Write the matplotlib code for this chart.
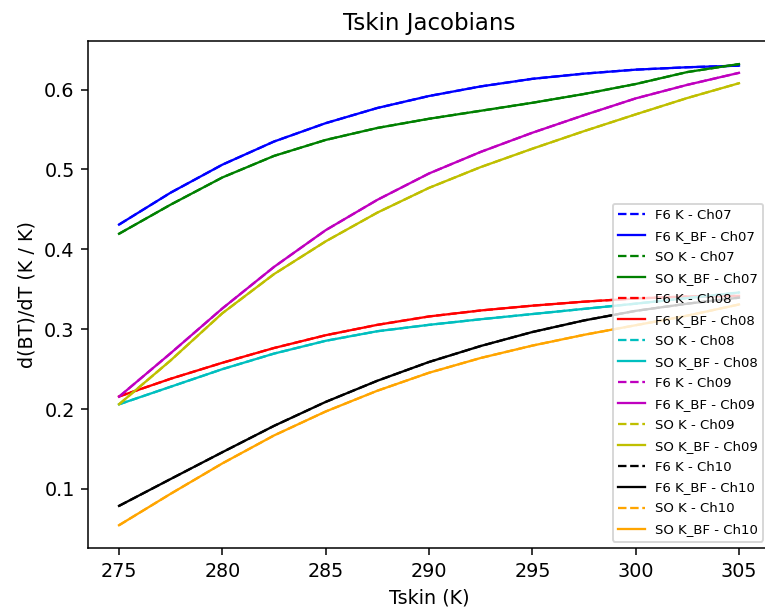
import numpy as np
import matplotlib
matplotlib.use("Agg")
import matplotlib.pyplot as plt

tskin = [275, 277.5, 280, 282.5, 285, 287.5, 290, 292.5, 295, 297.5, 300, 302.5, 305]

f6_ch07 = [0.431, 0.471, 0.506, 0.535, 0.558, 0.577, 0.592, 0.604, 0.6135, 0.620, 0.625, 0.628, 0.630]
so_ch07 = [0.4195, 0.456, 0.490, 0.517, 0.537, 0.552, 0.5635, 0.5735, 0.5835, 0.5945, 0.607, 0.622, 0.632]
f6_ch08 = [0.2158, 0.238, 0.258, 0.2765, 0.2925, 0.3055, 0.316, 0.3235, 0.3295, 0.3345, 0.3385, 0.341, 0.3418]
so_ch08 = [0.206, 0.228, 0.250, 0.2695, 0.2855, 0.2975, 0.3055, 0.3125, 0.319, 0.3255, 0.332, 0.339, 0.346]
f6_ch09 = [0.2155, 0.270, 0.326, 0.378, 0.424, 0.462, 0.495, 0.522, 0.546, 0.568, 0.589, 0.606, 0.621]
so_ch09 = [0.206, 0.261, 0.320, 0.369, 0.410, 0.446, 0.477, 0.503, 0.526, 0.548, 0.569, 0.5895, 0.608]
f6_ch10 = [0.0788, 0.1125, 0.146, 0.179, 0.209, 0.2355, 0.259, 0.279, 0.2965, 0.311, 0.323, 0.332, 0.3395]
so_ch10 = [0.0546, 0.094, 0.132, 0.167, 0.197, 0.223, 0.2455, 0.264, 0.2795, 0.293, 0.305, 0.317, 0.331]

channels = ["Ch07", "Ch08", "Ch09", "Ch10"]
f6_series = [f6_ch07, f6_ch08, f6_ch09, f6_ch10]
so_series = [so_ch07, so_ch08, so_ch09, so_ch10]
f6_colors = ["b", "r", "m", "k"]
so_colors = ["g", "c", "y", "orange"]

dpi = 137.5
fig = plt.figure(figsize=(765 / dpi, 608 / dpi), dpi=dpi)
ax = fig.add_axes([88 / 765, (608 - 548.3) / 608, 682 / 765, 507.3 / 608])

lw = 1.2
for ch, f6, so, cf, cs in zip(channels, f6_series, so_series, f6_colors, so_colors):
    ax.plot(tskin, f6, linestyle="--", color=cf, lw=lw, label=f"F6 K - {ch}")
    ax.plot(tskin, f6, linestyle="-", color=cf, lw=lw, label=f"F6 K_BF - {ch}")
    ax.plot(tskin, so, linestyle="--", color=cs, lw=lw, label=f"SO K - {ch}")
    ax.plot(tskin, so, linestyle="-", color=cs, lw=lw, label=f"SO K_BF - {ch}")

ax.set_title("Tskin Jacobians")
ax.set_xlabel("Tskin (K)")
ax.set_ylabel("d(BT)/dT (K / K)")
ax.legend(loc="lower right", fontsize="x-small", labelspacing=0.6)

fig.savefig("out.png", dpi=dpi)
